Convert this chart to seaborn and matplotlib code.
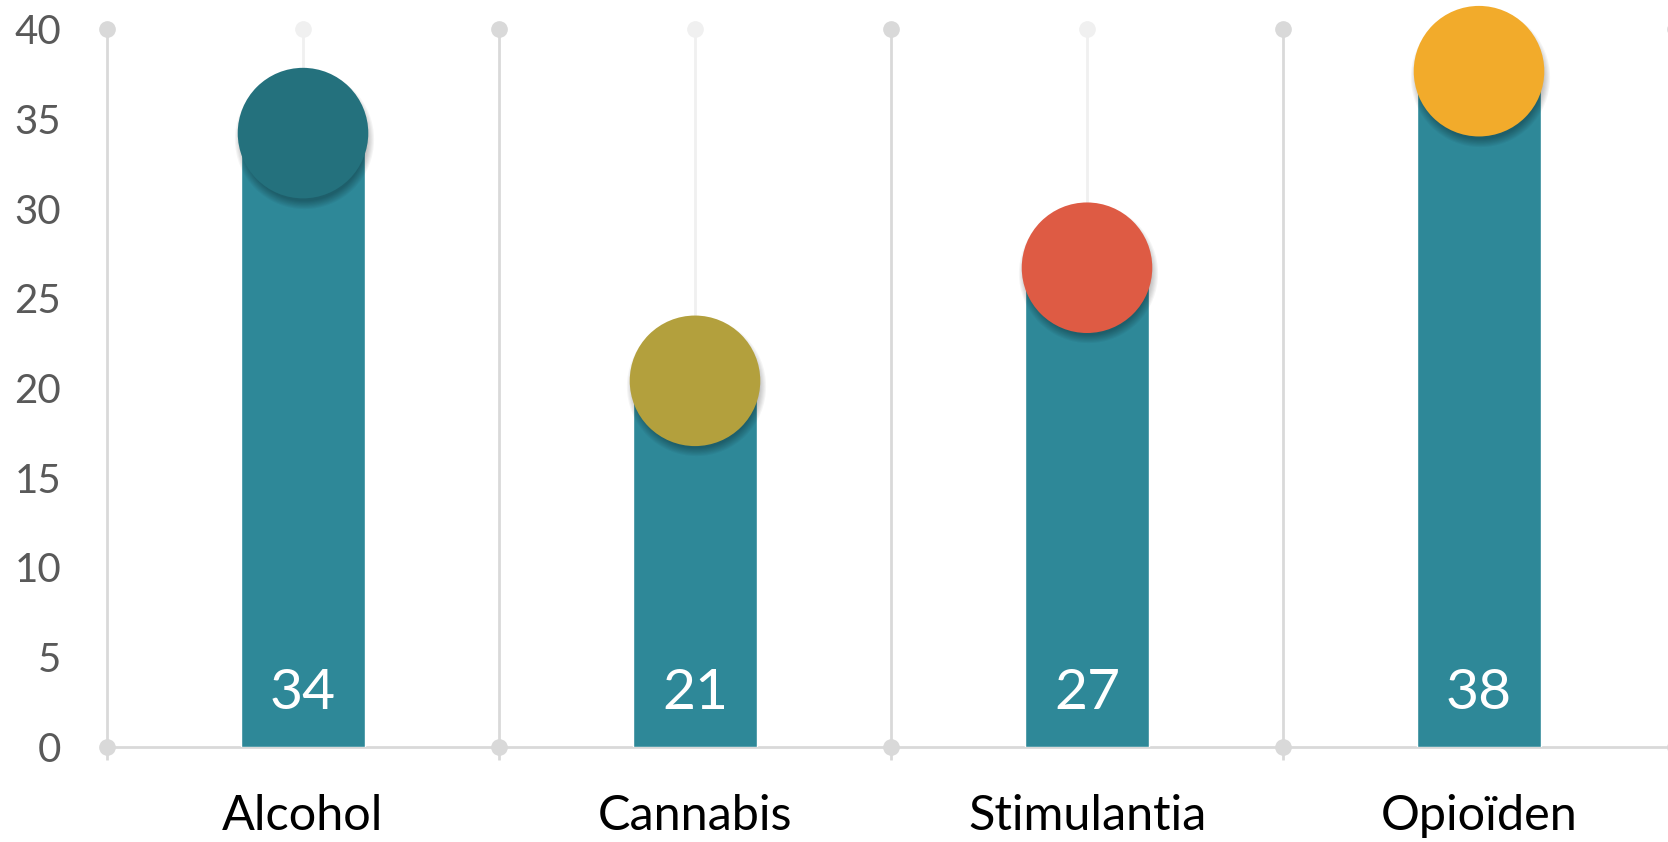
import numpy as np
import matplotlib
matplotlib.use("Agg")
import matplotlib.pyplot as plt
import matplotlib.transforms as mtransforms
import seaborn as sns

categories = ["Alcohol", "Cannabis", "Stimulantia", "Opioïden"]
values = [34, 21, 27, 38]
marker_values = [34.2, 20.4, 26.7, 37.65]
y_ticks = [0, 5, 10, 15, 20, 25, 30, 35, 40]

bar_color = "#2E8898"
circle_colors = ["#24717D", "#B3A03D", "#DE5B44", "#F2AB2B"]
grid_color = "#D9D9D9"
center_color = "#F0F0F0"

sns.set_theme(style="white")
plt.rcParams["font.family"] = ["Lato", "DejaVu Sans"]

fig, ax = plt.subplots(figsize=(16.68, 8.42), dpi=100)
ax.set_position([107 / 1668, 95 / 842, 1568 / 1668, 718 / 842])

x = np.arange(len(categories))
bounds = np.arange(len(categories) + 1) - 0.5

# center lines (light) and boundary lines
ax.vlines(x, 0, y_ticks[-1], color=center_color, lw=2, zorder=0)
ax.vlines(bounds, 0, y_ticks[-1], color=grid_color, lw=2, zorder=0, clip_on=False)

sns.barplot(x=categories, y=values, color=bar_color, width=0.316,
            saturation=1, ax=ax, zorder=2)

# soft shadow under the circles
size = 94
trans = mtransforms.offset_copy(ax.transData, fig=fig, x=0.5, y=-4, units="points")
for k in range(8):
    ax.scatter(x, marker_values, s=(size - 5 + k * 1.6) ** 2, color="black",
               alpha=0.04, linewidths=0, transform=trans, zorder=3, clip_on=False)

sns.scatterplot(x=x, y=marker_values, hue=categories, palette=circle_colors,
                s=size ** 2, linewidth=0, legend=False, ax=ax, zorder=4,
                clip_on=False)

for xi, v in zip(x, values):
    ax.text(xi, 3.0, str(v), ha="center", va="center", color="white",
            fontsize=41, zorder=5)

# end dots of the grid lines
ax.plot(bounds, [y_ticks[-1]] * len(bounds), "o", color=grid_color, ms=11,
        clip_on=False, zorder=1)
ax.plot(bounds, [0] * len(bounds), "o", color=grid_color, ms=11,
        clip_on=False, zorder=6)
ax.plot(x, [y_ticks[-1]] * len(x), "o", color=center_color, ms=11,
        clip_on=False, zorder=0)

ax.set_xlim(-0.5, len(categories) - 0.5)
ax.set_ylim(0, y_ticks[-1])
ax.set_yticks(y_ticks)
ax.set_xticks(x)
ax.set_xticklabels(categories)
ax.set_xticks(bounds, minor=True)
ax.set_xlabel("")
ax.set_ylabel("")

ax.tick_params(axis="y", length=0, pad=33, labelsize=29, labelcolor="#595959")
ax.tick_params(axis="x", which="major", length=0, pad=34, labelsize=35,
               labelcolor="black")
ax.tick_params(axis="x", which="minor", length=9, width=2, color=grid_color,
               direction="out", bottom=True)

for side in ["top", "right", "left"]:
    ax.spines[side].set_visible(False)
ax.spines["bottom"].set_color(grid_color)
ax.spines["bottom"].set_linewidth(2)
ax.spines["bottom"].set_zorder(1)

fig.savefig("out.png", dpi=100)
